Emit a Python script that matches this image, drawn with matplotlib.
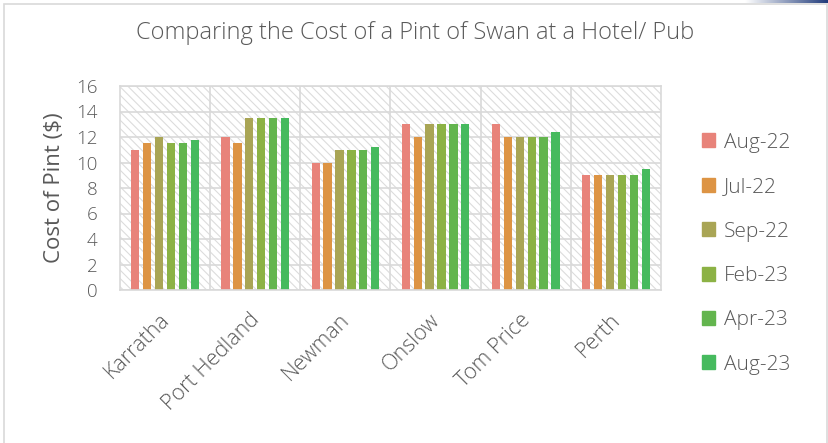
import numpy as np
import matplotlib.pyplot as plt
from matplotlib.patches import Patch, Rectangle
from matplotlib.colors import LinearSegmentedColormap
from matplotlib.transforms import ScaledTranslation

plt.rcParams['font.family'] = ['Open Sans', 'DejaVu Sans']
plt.rcParams['font.weight'] = 'light'
plt.rcParams['hatch.linewidth'] = 0.8

# data
towns = ['Karratha', 'Port Hedland', 'Newman', 'Onslow', 'Tom Price', 'Perth']
months = ['Aug-22', 'Jul-22', 'Sep-22', 'Feb-23', 'Apr-23', 'Aug-23']
aug22 = [11, 12, 10, 13, 13, 9]
jul22 = [11.5, 11.5, 10, 12, 12, 9]
sep22 = [12, 13.5, 11, 13, 12, 9]
feb23 = [11.5, 13.5, 11, 13, 12, 9]
apr23 = [11.5, 13.5, 11, 13, 12, 9]
aug23 = [11.8, 13.5, 11.2, 13, 12.4, 9.5]
yticks = [0, 2, 4, 6, 8, 10, 12, 14, 16]

series = [aug22, jul22, sep22, feb23, apr23, aug23]
colors = ['#E8837A', '#DD9444', '#A9A555', '#8CB245', '#63B54E', '#46BA5E']
txt = '#595959'
grid = '#D9D9D9'

fig = plt.figure(figsize=(8.29, 4.43), dpi=100)

# outer chart border
fig.patches.append(Rectangle((4 / 829, -0.1), 823 / 829, 1.1 - 4 / 443,
                             transform=fig.transFigure, fill=False,
                             edgecolor=grid, lw=1.2))
# blue strip in top right corner
strip = fig.add_axes([745 / 829, 1 - 3 / 443, 84 / 829, 3 / 443])
strip.imshow(np.linspace(0, 1, 100).reshape(1, -1), aspect='auto',
             cmap=LinearSegmentedColormap.from_list('b', ['#FFFFFF', '#1F3A7A']))
strip.axis('off')

ax = fig.add_axes([120 / 829, 1 - 290 / 443, 541 / 829, 204 / 443])
x = np.arange(len(towns))
ax.set_xlim(-0.5, len(towns) - 0.5)
ax.set_ylim(0, 16)

# hatched background
ax.add_patch(Rectangle((-0.5, 0), len(towns), 16, facecolor='white',
                       edgecolor='#DCDCDC', hatch='\\\\\\\\', lw=0, zorder=0))

for yv in yticks:
    ax.axhline(yv, color=grid, lw=1.2, zorder=1)
for xv in np.arange(0.5, len(towns) - 0.5, 1):
    ax.axvline(xv, color=grid, lw=1.2, zorder=1)

pitch = 0.132
width = 0.092
for i, (vals, c) in enumerate(zip(series, colors)):
    ax.bar(x + (i - 2.5) * pitch, vals, width=width, color=c, zorder=2)

for s in ax.spines.values():
    s.set_color(grid)
    s.set_linewidth(1.2)

ax.set_yticks(yticks)
ax.set_yticklabels([str(v) for v in yticks], fontsize=13.5, color=txt)
ax.set_xticks(x)
ax.set_xticklabels(towns, rotation=45, ha='right', rotation_mode='anchor',
                   fontsize=15.5, color=txt)
ax.tick_params(axis='x', length=0, pad=14)
ax.tick_params(axis='y', length=0, pad=16)
shift = ScaledTranslation(-6 / 100, 0, fig.dpi_scale_trans)
for lbl in ax.get_xticklabels():
    lbl.set_transform(lbl.get_transform() + shift)
ax.set_ylabel('Cost of Pint ($)', fontsize=16, color=txt, labelpad=8)

fig.text(415 / 829, 1 - 33 / 443, 'Comparing the Cost of a Pint of Swan at a Hotel/ Pub',
         ha='center', va='center', fontsize=17, color=txt)

handles = [Patch(color=c) for c in colors]
fig.legend(handles, months, loc='upper left', bbox_to_anchor=(683 / 829, 1 - 114 / 443),
           frameon=False, fontsize=15, labelcolor=txt, handlelength=0.65,
           handleheight=0.65, handletextpad=0.4, labelspacing=1.17)

fig.savefig('out.png', dpi=100)
